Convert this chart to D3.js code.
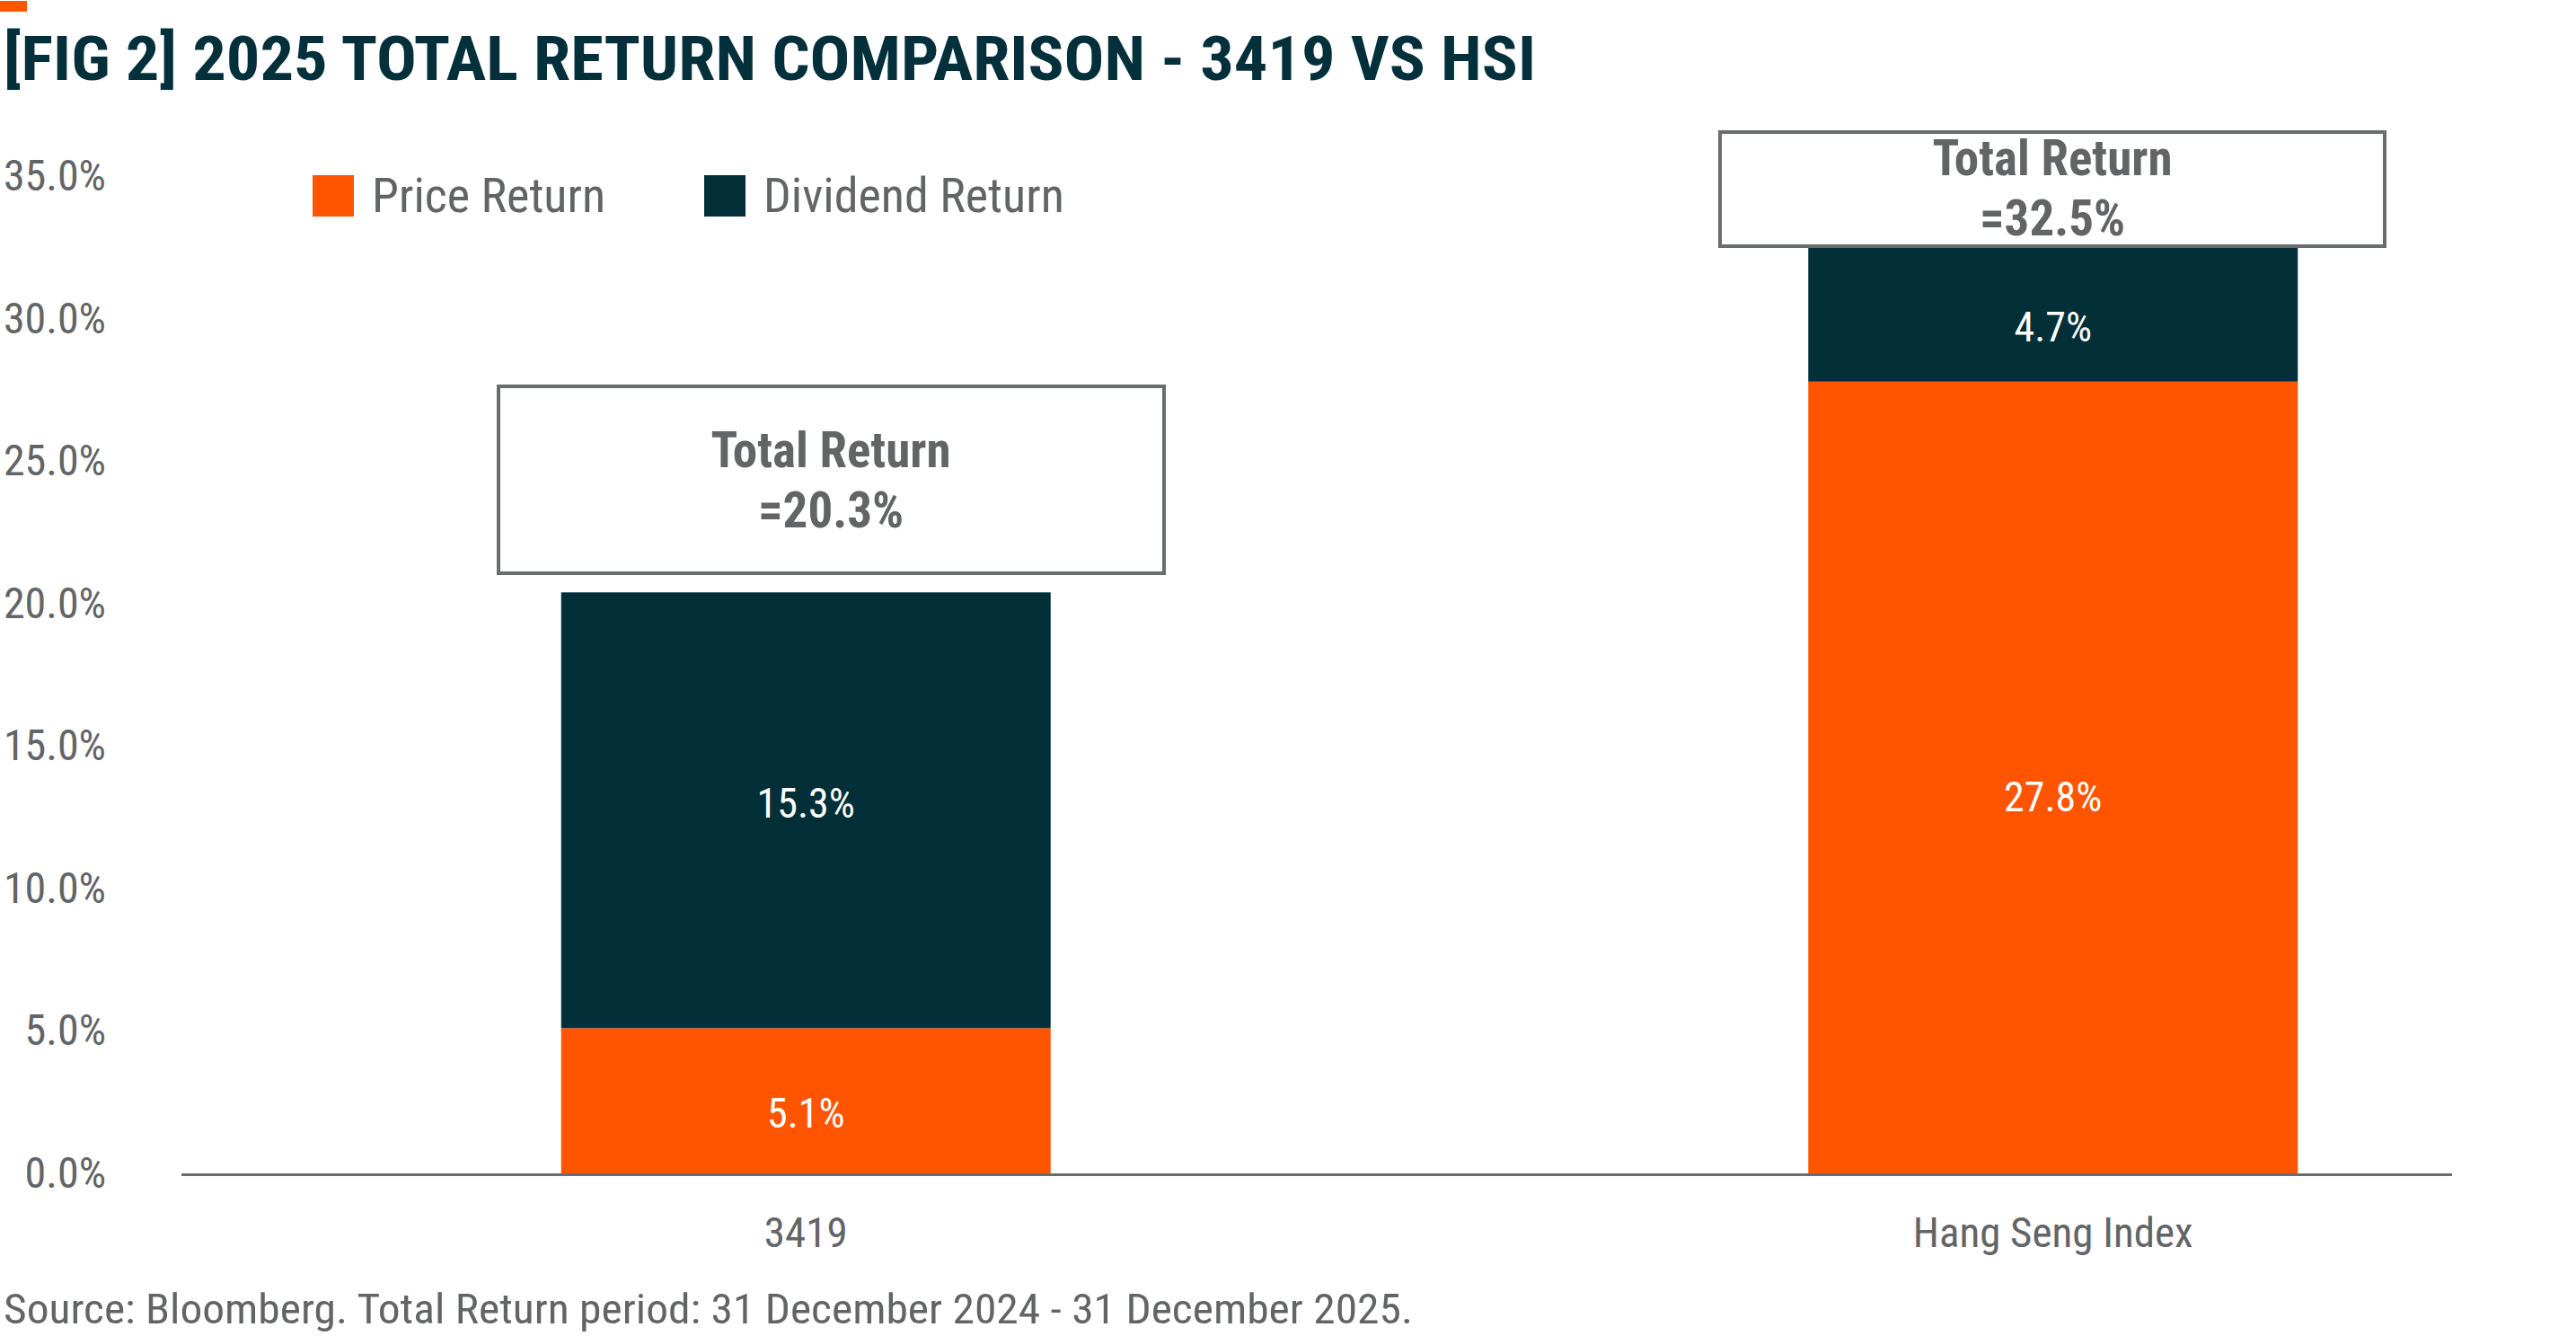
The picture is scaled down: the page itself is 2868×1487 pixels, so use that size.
<!DOCTYPE html>
<html>
<head>
<meta charset="utf-8">
<script src="https://cdn.jsdelivr.net/npm/d3@7"></script>
<style>
  html, body { margin: 0; padding: 0; background: #ffffff; }
  svg { display: block; }
  text { font-family: 'Liberation Sans Narrow', 'Roboto Condensed', 'DejaVu Sans Condensed', 'Liberation Sans', sans-serif; }
</style>
</head>
<body>
<script>
// ---- data ----
const categories = ["3419", "Hang Seng Index"];
const priceReturn = [5.1, 27.8];
const dividendReturn = [15.3, 4.7];
const totalReturn = [20.3, 32.5];
const seriesNames = ["Price Return", "Dividend Return"];
const yTicks = [0, 5, 10, 15, 20, 25, 30, 35];
const titleText = "[FIG 2] 2025 TOTAL RETURN COMPARISON - 3419 VS HSI";
const sourceText = "Source: Bloomberg. Total Return period: 31 December 2024 - 31 December 2025.";

// ---- style ----
const W = 2868, H = 1487;
const ORANGE = "#FF5500", DARK = "#022F38", GREY = "#636466", LINE = "#6B6C6E";
// vertical nudges (px) for segment labels, by series then category
const labelNudge = { "Price Return": [13, 21], "Dividend Return": [-8, 13] };

const svg = d3.select("body").append("svg").attr("width", W).attr("height", H);

// scales
const y = d3.scaleLinear().domain([0, 35]).range([1306, 196.5]);
const x = d3.scaleBand().domain(categories).range([203, 2980])
  .paddingInner(0.6075).paddingOuter(0.30375);
const color = d3.scaleOrdinal().domain(seriesNames).range([ORANGE, DARK]);

// top accent + title
svg.append("rect").attr("x", 0).attr("y", 1).attr("width", 30).attr("height", 12).attr("fill", ORANGE);
svg.append("text").attr("x", 4).attr("y", 89)
  .attr("font-size", 68).attr("font-weight", 700).attr("fill", "#03303A")
  .attr("textLength", 1706).attr("lengthAdjust", "spacingAndGlyphs")
  .text(titleText);

// stacked data
const rows = categories.map((c, i) => ({ cat: c, "Price Return": priceReturn[i], "Dividend Return": dividendReturn[i] }));
const stacked = d3.stack().keys(seriesNames)(rows);

const g = svg.append("g");
stacked.forEach(layer => {
  g.selectAll(null).data(layer).enter().append("rect")
    .attr("x", d => x(d.data.cat))
    .attr("width", x.bandwidth())
    .attr("y", d => y(d[1]))
    .attr("height", d => y(d[0]) - y(d[1]))
    .attr("fill", color(layer.key));
  g.selectAll(null).data(layer).enter().append("text")
    .attr("x", d => x(d.data.cat) + x.bandwidth() / 2)
    .attr("y", (d, i) => (y(d[0]) + y(d[1])) / 2 + labelNudge[layer.key][i])
    .attr("dy", "0.36em")
    .attr("text-anchor", "middle")
    .attr("font-size", 46).attr("fill", "#ffffff")
    .text(d => (d[1] - d[0]).toFixed(1) + "%");
});

// y axis
const yAxis = d3.axisLeft(y).tickValues(yTicks).tickSize(0).tickPadding(0)
  .tickFormat(d => d.toFixed(1) + "%");
const ya = svg.append("g").attr("transform", "translate(118,0)").call(yAxis);
ya.select(".domain").remove();
ya.selectAll("text").attr("font-size", 48).attr("fill", GREY)
  .attr("font-family", "'Liberation Sans Narrow', 'Roboto Condensed', 'DejaVu Sans Condensed', sans-serif");

// x axis baseline
svg.append("line").attr("x1", 202).attr("x2", 2730)
  .attr("y1", y(0) + 1.5).attr("y2", y(0) + 1.5)
  .attr("stroke", LINE).attr("stroke-width", 3);

// x labels
svg.selectAll(null).data(categories).enter().append("text")
  .attr("x", d => x(d) + x.bandwidth() / 2).attr("y", 1388)
  .attr("text-anchor", "middle").attr("font-size", 47).attr("fill", GREY)
  .text(d => d);

// legend
const legendX = [348, 784];
seriesNames.forEach((s, i) => {
  svg.append("rect").attr("x", legendX[i]).attr("y", 195).attr("width", 46).attr("height", 46).attr("fill", color(s));
  svg.append("text").attr("x", legendX[i] + 66).attr("y", 236)
    .attr("font-size", 54).attr("fill", GREY).text(s);
});

// total return annotation boxes
const boxes = [
  { x: 555, y: 430, w: 741, h: 208, cx: 925, b1: 520, b2: 587 },
  { x: 1915, y: 147, w: 740, h: 127, cx: 2285, b1: 195, b2: 262 }
];
boxes.forEach((b, i) => {
  svg.append("rect").attr("x", b.x).attr("y", b.y).attr("width", b.w).attr("height", b.h)
    .attr("fill", "#ffffff").attr("stroke", LINE).attr("stroke-width", 4);
  svg.append("text").attr("x", b.cx).attr("y", b.b1).attr("text-anchor", "middle")
    .attr("font-size", 55).attr("font-weight", 700).attr("fill", GREY).text("Total Return");
  svg.append("text").attr("x", b.cx).attr("y", b.b2).attr("text-anchor", "middle")
    .attr("font-size", 55).attr("font-weight", 700).attr("fill", GREY)
    .text("=" + totalReturn[i].toFixed(1) + "%");
});

// source
svg.append("text").attr("x", 4).attr("y", 1473).attr("font-size", 47).attr("fill", GREY)
  .attr("textLength", 1569).attr("lengthAdjust", "spacingAndGlyphs")
  .text(sourceText);
</script>
</body>
</html>
